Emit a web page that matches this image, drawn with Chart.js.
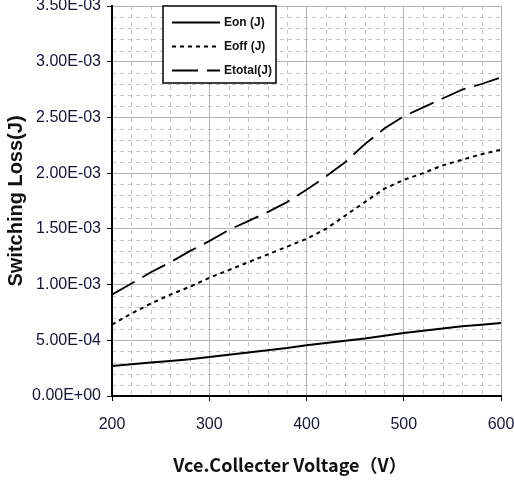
<!DOCTYPE html>
<html>
<head>
<meta charset="utf-8">
<script src="https://cdn.jsdelivr.net/npm/chart.js@4/dist/chart.umd.min.js"></script>
<style>
  html, body { margin: 0; padding: 0; background: #fff; }
  #wrap { width: 514px; height: 482px; }
</style>
</head>
<body>
<div id="wrap"><canvas id="c" width="514" height="482"></canvas></div>
<script>
// ---- data ----
const voltages = [200, 220, 240, 260, 280, 300, 320, 340, 360, 380, 400, 420, 440, 460, 480, 500, 520, 540, 560, 580, 600];
const eon    = [0.27, 0.285, 0.30, 0.315, 0.33, 0.35, 0.37, 0.39, 0.41, 0.43, 0.455, 0.475, 0.495, 0.515, 0.54, 0.565, 0.585, 0.605, 0.625, 0.64, 0.655];
const eoff   = [0.64, 0.74, 0.83, 0.91, 0.98, 1.06, 1.13, 1.20, 1.27, 1.34, 1.41, 1.50, 1.62, 1.74, 1.86, 1.94, 2.00, 2.07, 2.12, 2.17, 2.21];
const etotal = [0.91, 1.01, 1.11, 1.20, 1.30, 1.39, 1.49, 1.57, 1.65, 1.74, 1.85, 1.97, 2.10, 2.26, 2.40, 2.51, 2.59, 2.67, 2.75, 2.80, 2.86];
const valueScale = 1e-3; // values above are in units of 1E-03 J
const seriesLabels = ['Eon (J)', 'Eoff (J)', 'Etotal(J)'];
const xTitle = 'Vce.Collecter Voltage\uFF08V\uFF09';
const yTitle = 'Switching Loss(J)';

function pts(arr) { return voltages.map((v, i) => ({ x: v, y: arr[i] * valueScale })); }

function fmtE(v) {
  if (Math.abs(v) < 1e-12) return '0.00E+00';
  let s = v.toExponential(2).toUpperCase();
  const m = s.match(/^(.*)E([+-])(\d+)$/);
  return m[1] + 'E' + m[2] + (m[3].length < 2 ? '0' + m[3] : m[3]);
}

const tickFont = { family: "'Liberation Sans Narrow', 'Arial Narrow', 'Liberation Sans', Arial, sans-serif", size: 16 };
const tickColor = '#14143a';

const minorGrid = {
  id: 'minorGrid',
  beforeDraw(chart) {
    const ctx = chart.ctx;
    ctx.save();
    ctx.fillStyle = '#fff';
    ctx.fillRect(0, 0, chart.width, chart.height);
    const a = chart.chartArea;
    const xs = chart.scales.x, ys = chart.scales.y;
    ctx.strokeStyle = '#c4c4c4';
    ctx.lineWidth = 1;
    ctx.setLineDash([4, 4]);
    for (let v = 200; v <= 600; v += 20) {
      if (v % 100 === 0) continue;
      const px = Math.round(xs.getPixelForValue(v)) + 0.5;
      ctx.beginPath(); ctx.moveTo(px, a.top); ctx.lineTo(px, a.bottom); ctx.stroke();
    }
    for (let k = 0; k <= 35; k++) {
      if (k % 5 === 0) continue;
      const py = Math.round(ys.getPixelForValue(k * 1e-4)) + 0.5;
      ctx.beginPath(); ctx.moveTo(a.left, py); ctx.lineTo(a.right, py); ctx.stroke();
    }
    ctx.restore();
  }
};

const boxLegend = {
  id: 'boxLegend',
  afterDatasetsDraw(chart) {
    const ctx = chart.ctx;
    const x0 = 163, y0 = 6, w = 113, h = 77;
    ctx.save();
    ctx.setLineDash([]);
    ctx.fillStyle = '#fff';
    ctx.fillRect(x0, y0, w, h);
    ctx.strokeStyle = '#000';
    ctx.lineWidth = 1.5;
    ctx.strokeRect(x0, y0, w, h);
    const rows = [22, 46, 70];
    chart.data.datasets.forEach((ds, i) => {
      const y = rows[i] + 0.5;
      ctx.strokeStyle = ds.borderColor;
      ctx.lineWidth = ds.borderWidth;
      ctx.setLineDash(ds.borderDash || []);
      ctx.beginPath(); ctx.moveTo(172, y); ctx.lineTo(220, y); ctx.stroke();
      ctx.setLineDash([]);
      ctx.fillStyle = '#111';
      ctx.font = "bold 12px 'Liberation Sans Narrow', 'Arial Narrow', 'Liberation Sans', Arial, sans-serif";
      ctx.textBaseline = 'middle';
      ctx.textAlign = 'left';
      ctx.fillText(ds.label, 224, y);
    });
    ctx.restore();
  }
};

const xTitlePlugin = {
  id: 'xTitlePlugin',
  afterDraw(chart) {
    const ctx = chart.ctx;
    ctx.save();
    ctx.fillStyle = '#111';
    ctx.font = "bold 18px 'Noto Sans CJK SC', 'Noto Sans', sans-serif";
    ctx.textAlign = 'center';
    ctx.textBaseline = 'middle';
    ctx.fillText(xTitle, 290, 465);
    ctx.restore();
  }
};

new Chart(document.getElementById('c'), {
  type: 'line',
  data: {
    datasets: [
      { label: seriesLabels[0], data: pts(eon), borderColor: '#000', borderWidth: 2, borderDash: [], pointRadius: 0, tension: 0 },
      { label: seriesLabels[1], data: pts(eoff), borderColor: '#000', borderWidth: 2, borderDash: [4, 4], pointRadius: 0, tension: 0 },
      { label: seriesLabels[2], data: pts(etotal), borderColor: '#000', borderWidth: 1.8, borderDash: [26, 9], pointRadius: 0, tension: 0 }
    ]
  },
  options: {
    responsive: false,
    animation: false,
    devicePixelRatio: 1,
    layout: { padding: { left: 0, right: 13, top: 6, bottom: 0 } },
    plugins: { legend: { display: false }, tooltip: { enabled: false } },
    scales: {
      x: {
        type: 'linear', min: 200, max: 600,
        ticks: { stepSize: 100, color: tickColor, font: tickFont, padding: 14, maxRotation: 0 },
        grid: { color: '#b4b4b4', lineWidth: 1, tickLength: 5, tickColor: '#000', drawTicks: true },
        border: { color: '#000', width: 2 },
        title: { display: false },
        afterFit(s) { s.height = 86; s.paddingLeft = 0; s.paddingRight = 0; }
      },
      y: {
        type: 'linear', min: 0, max: 3.5e-3,
        ticks: { stepSize: 5e-4, color: tickColor, font: tickFont, padding: 6, callback: (v) => fmtE(v) },
        grid: { color: '#b4b4b4', lineWidth: 1, tickLength: 5, tickColor: '#000', drawTicks: true },
        border: { color: '#000', width: 2 },
        title: { display: true, text: yTitle, color: '#111',
                 font: { family: "'Liberation Sans', Arial, sans-serif", size: 20, weight: 'bold' },
                 padding: { top: 4, bottom: 0 } },
        afterFit(s) { s.width = 112; s.paddingTop = 0; s.paddingBottom = 0; }
      }
    }
  },
  plugins: [minorGrid, boxLegend, xTitlePlugin]
});
</script>
</body>
</html>
